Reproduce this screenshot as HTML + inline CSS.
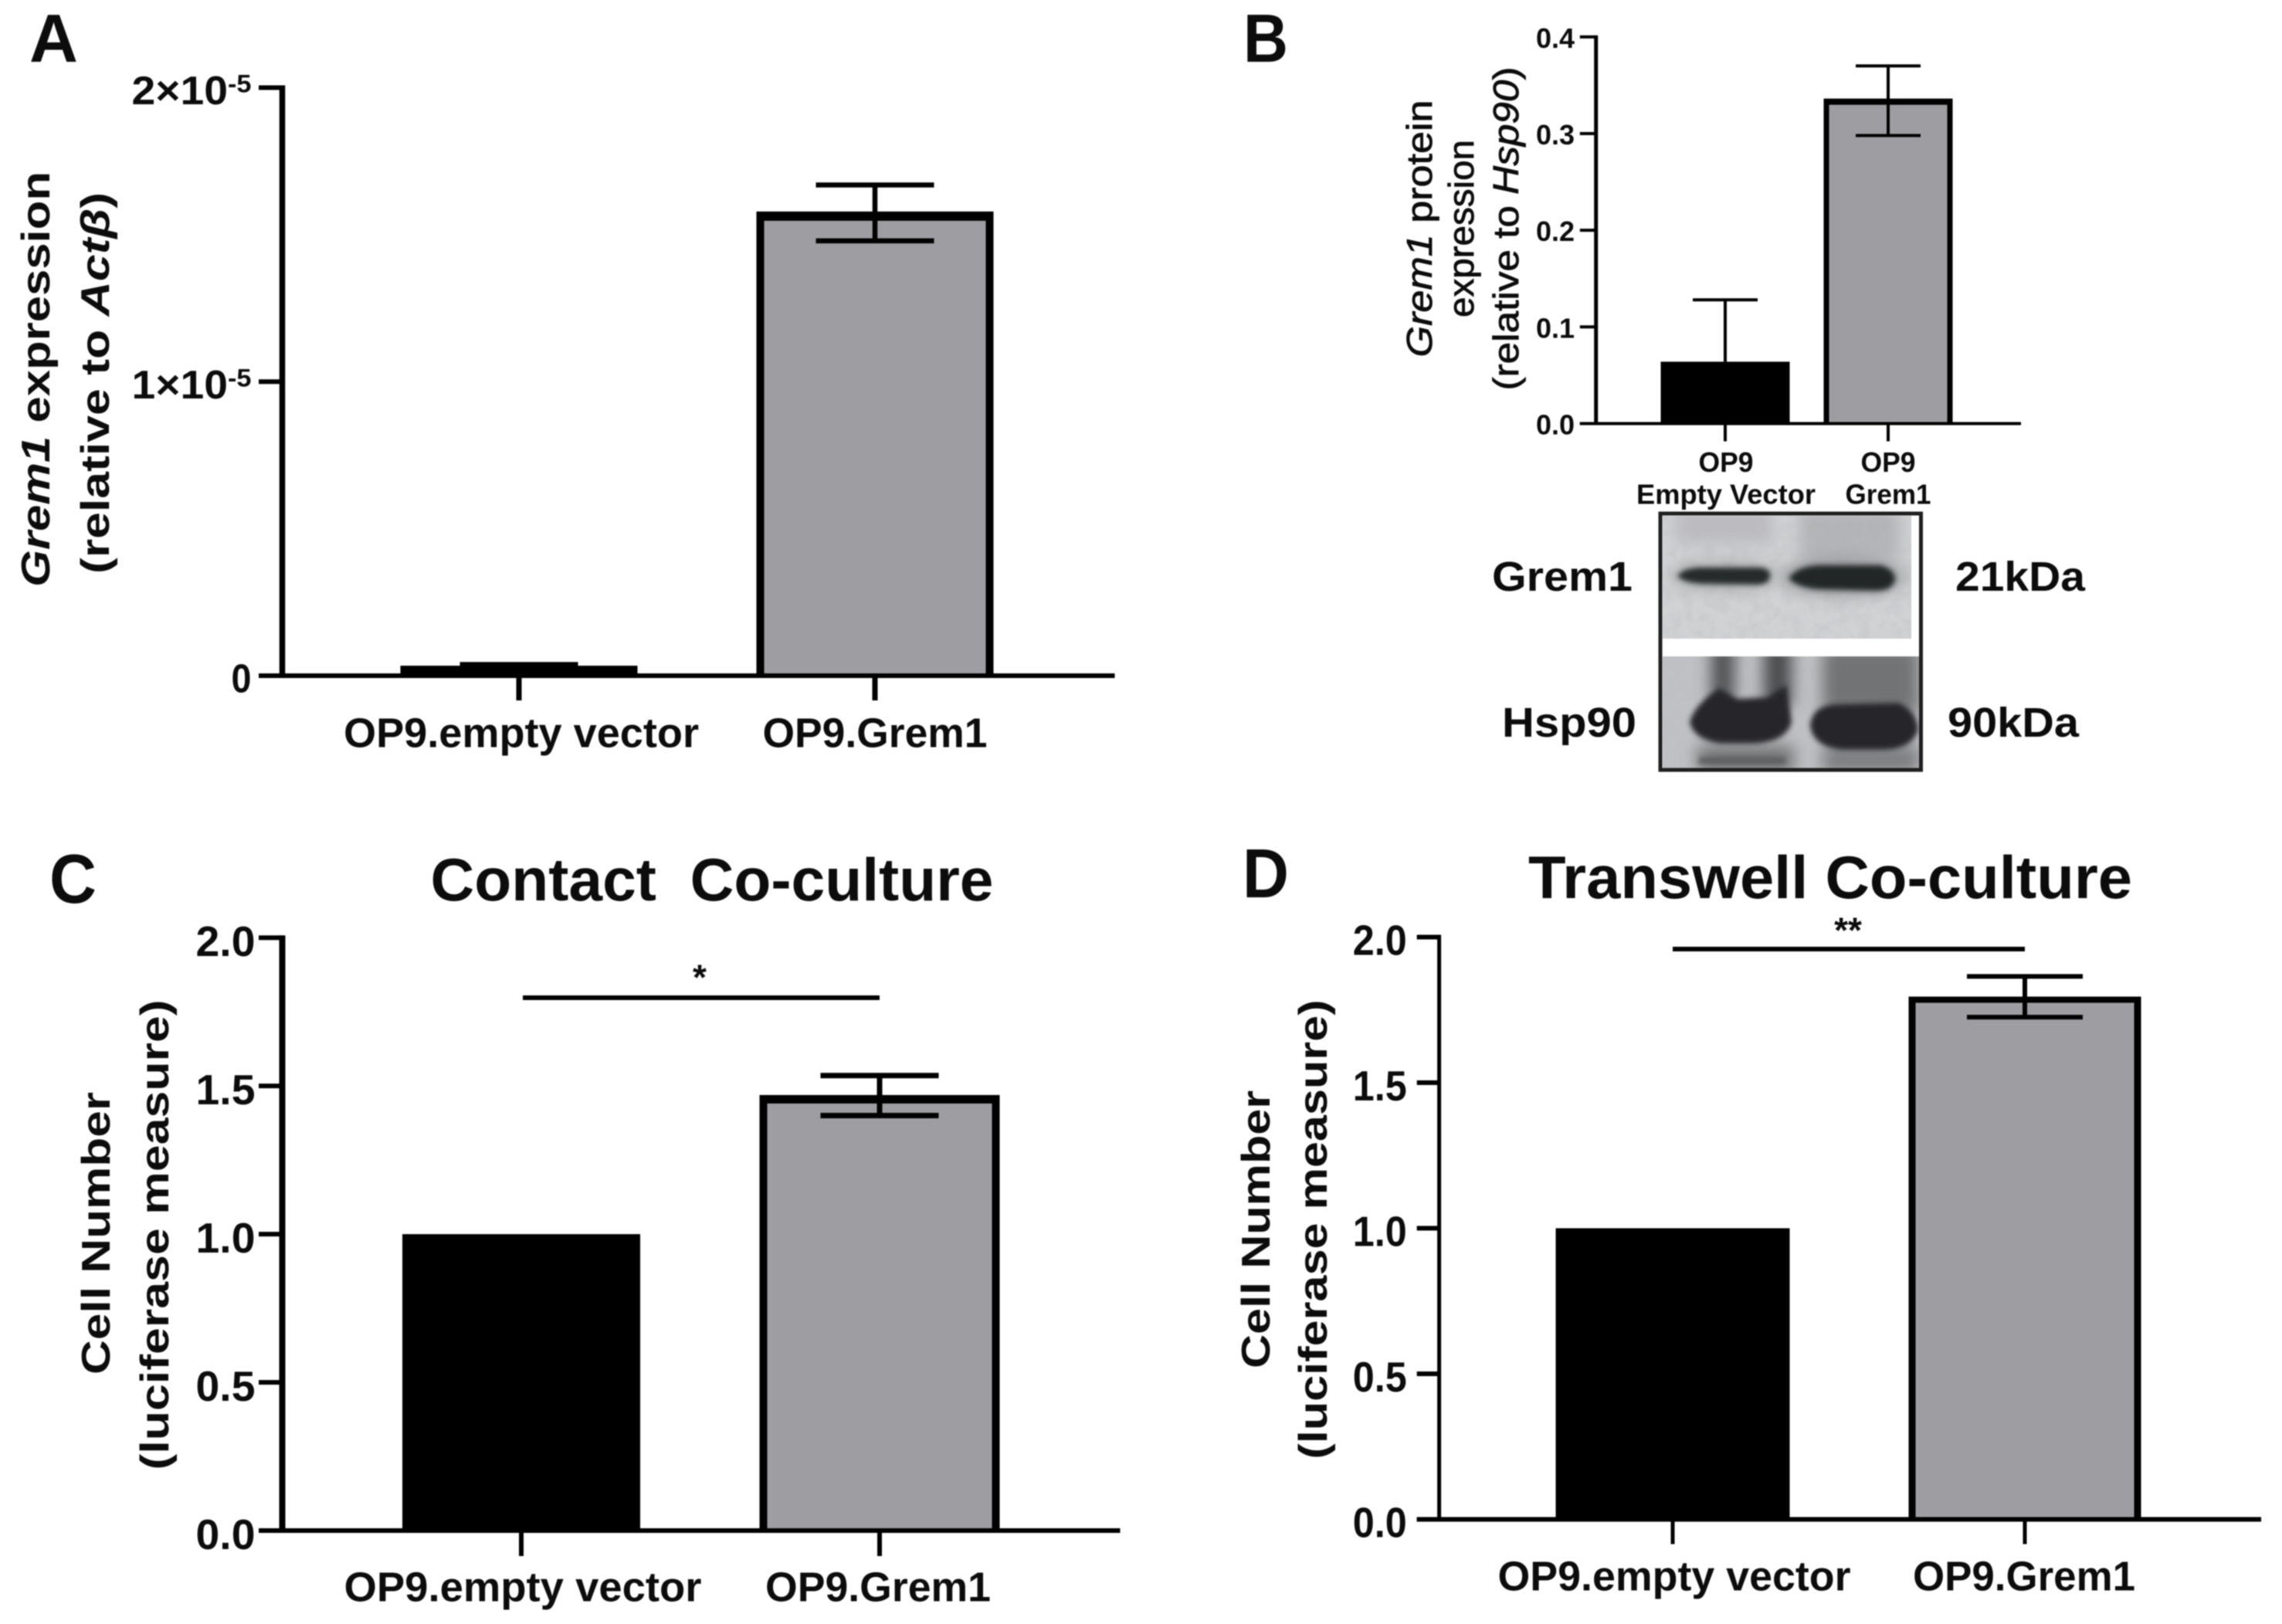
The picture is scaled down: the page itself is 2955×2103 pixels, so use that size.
<!DOCTYPE html>
<html>
<head>
<meta charset="utf-8">
<title>Grem1 expression and co-culture charts</title>
<style>
html,body{margin:0;padding:0;background:#fff;}
#figure{display:block;width:2955px;height:2103px;filter:blur(0.7px);}
text{font-family:"Liberation Sans",sans-serif;fill:#0c0c0c;}
.b{font-weight:700;}
.i{font-style:italic;}
.m{stroke:#0c0c0c;stroke-width:0.8px;}
</style>
</head>
<body>
<svg id="figure" xmlns="http://www.w3.org/2000/svg" width="2955" height="2103" viewBox="0 0 2955 2103">
<defs>
<filter id="blur-strong" filterUnits="userSpaceOnUse" x="-100" y="-100" width="600" height="600"><feGaussianBlur stdDeviation="10"/></filter>
<filter id="blur-mid" filterUnits="userSpaceOnUse" x="-100" y="-100" width="600" height="600"><feGaussianBlur stdDeviation="3.5"/></filter>
<filter id="grain" x="0" y="0" width="100%" height="100%"><feTurbulence type="fractalNoise" baseFrequency="0.07" numOctaves="3" seed="4"/><feColorMatrix values="0 0 0 0 0.5  0 0 0 0 0.5  0 0 0 0 0.52  0.7 0 0 0 -0.24"/></filter>
<clipPath id="strip-top"><rect x="3" y="3" width="322" height="159"/></clipPath>
<clipPath id="strip-bottom"><rect x="3" y="185" width="332" height="145"/></clipPath>
</defs>

<text class="b" x="38" y="80" font-size="88" textLength="63" lengthAdjust="spacingAndGlyphs">A</text>
<text class="b" x="1610" y="80" font-size="88" textLength="58" lengthAdjust="spacingAndGlyphs">B</text>
<text class="b" x="64" y="1169" font-size="90" textLength="61" lengthAdjust="spacingAndGlyphs">C</text>
<text class="b" x="1609" y="1162" font-size="90" textLength="60" lengthAdjust="spacingAndGlyphs">D</text>

<text class="b" x="922" y="1166" font-size="78" text-anchor="middle" textLength="729" lengthAdjust="spacingAndGlyphs" xml:space="preserve">Contact  Co-culture</text>
<text class="b" x="2370" y="1163" font-size="78" text-anchor="middle" textLength="782" lengthAdjust="spacingAndGlyphs">Transwell Co-culture</text>

<text class="b" transform="translate(64 491) rotate(-90)" font-size="52" text-anchor="middle" textLength="538" lengthAdjust="spacingAndGlyphs"><tspan class="i">Grem1</tspan> expression</text>
<text class="b" transform="translate(141 496) rotate(-90)" font-size="52" text-anchor="middle" textLength="494" lengthAdjust="spacingAndGlyphs">(relative to <tspan class="i">Actβ</tspan>)</text>

<text class="m" transform="translate(1854 296) rotate(-90)" font-size="46" text-anchor="middle" textLength="333" lengthAdjust="spacingAndGlyphs"><tspan class="i">Grem1</tspan> protein</text>
<text class="m" transform="translate(1908 296) rotate(-90)" font-size="46" text-anchor="middle" textLength="230" lengthAdjust="spacingAndGlyphs">expression</text>
<text class="m" transform="translate(1966 296) rotate(-90)" font-size="46" text-anchor="middle" textLength="419" lengthAdjust="spacingAndGlyphs">(relative to <tspan class="i">Hsp90</tspan>)</text>

<text class="b" transform="translate(142 1597) rotate(-90)" font-size="52" text-anchor="middle" textLength="366" lengthAdjust="spacingAndGlyphs">Cell Number</text>
<text class="b" transform="translate(218 1599) rotate(-90)" font-size="52" text-anchor="middle" textLength="609" lengthAdjust="spacingAndGlyphs">(luciferase measure)</text>
<text class="b" transform="translate(1644 1592) rotate(-90)" font-size="52" text-anchor="middle" textLength="360" lengthAdjust="spacingAndGlyphs">Cell Number</text>
<text class="b" transform="translate(1718 1592) rotate(-90)" font-size="52" text-anchor="middle" textLength="595" lengthAdjust="spacingAndGlyphs">(luciferase measure)</text>

<text class="b" x="1932" y="765" font-size="54" textLength="182" lengthAdjust="spacingAndGlyphs">Grem1</text>
<text class="b" x="2532" y="765" font-size="54" textLength="168" lengthAdjust="spacingAndGlyphs">21kDa</text>
<text class="b" x="1945" y="954" font-size="54" textLength="174" lengthAdjust="spacingAndGlyphs">Hsp90</text>
<text class="b" x="2522" y="954" font-size="54" textLength="170" lengthAdjust="spacingAndGlyphs">90kDa</text>

<g id="western-blot" transform="translate(2150 665)">
  <rect x="0" y="0" width="337.5" height="332" fill="#fff"/>
  <g clip-path="url(#strip-top)">
    <rect x="0" y="0" width="340" height="170" fill="#d0d2d4"/>
    <rect x="180" y="-10" width="130" height="70" fill="#b2b3b6" filter="url(#blur-strong)"/>
    <rect x="20" y="-10" width="125" height="50" fill="#bcbcc0" filter="url(#blur-strong)"/>
    <rect x="0" y="0" width="340" height="170" filter="url(#grain)"/>
    <ellipse cx="83" cy="81" rx="70" ry="18" fill="#8c8e90" filter="url(#blur-strong)" opacity="0.6"/>
    <ellipse cx="237" cy="82" rx="80" ry="24" fill="#7c7e80" filter="url(#blur-strong)" opacity="0.7"/>
    <path d="M22 81 Q30 69 60 70 L130 70 Q144 72 142 82 Q140 92 125 92 L60 91 Q32 91 22 81Z" fill="#26292a" filter="url(#blur-mid)"/>
    <path d="M166 84 Q178 68 205 67 L285 67 Q304 72 304 86 Q300 100 280 100 L205 98 Q178 96 166 84Z" fill="#232627" filter="url(#blur-mid)"/>
  </g>
  <g clip-path="url(#strip-bottom)">
    <rect x="0" y="180" width="340" height="160" fill="#c0c1c4"/>
    <rect x="0" y="180" width="340" height="160" filter="url(#grain)"/>
    <rect x="66" y="165" width="30" height="80" fill="#4e4f51" filter="url(#blur-strong)"/>
    <rect x="134" y="165" width="36" height="85" fill="#4a4b4d" filter="url(#blur-strong)"/>
    <rect x="210" y="170" width="125" height="90" fill="#727375" filter="url(#blur-strong)"/>
    <rect x="48" y="300" width="125" height="36" fill="#737476" filter="url(#blur-strong)"/>
    <rect x="210" y="300" width="125" height="36" fill="#7c7d7f" filter="url(#blur-strong)"/>
    <rect x="50" y="316" width="112" height="8" fill="#5a5b5d" filter="url(#blur-mid)"/>
    <path d="M38 270 Q44 248 76 226 L100 240 L138 238 L163 222 L170 270 Q163 296 120 298 L80 298 Q44 294 38 270Z" fill="#25282a" filter="url(#blur-mid)"/>
    <path d="M194 275 Q196 250 225 247 L308 245 Q332 255 334 280 Q326 305 290 306 L235 306 Q198 302 194 275Z" fill="#25282a" filter="url(#blur-mid)"/>
  </g>
  <rect x="0" y="0" width="337.5" height="332" fill="none" stroke="#1f1f1f" stroke-width="5"/>
</g>
<g id="charts"></g>

<script>
// Panel A data
const panelACategories = ["OP9.empty vector", "OP9.Grem1"];
const panelAValues = [0.034e-5, 1.563e-5];
const panelAErrHigh = [0.038e-5, 1.669e-5];
const panelAErrLow = [0.034e-5, 1.479e-5];
const panelATicks = [0, 1e-5, 2e-5];
const panelATickLabels = ["0", "1×10^-5", "2×10^-5"];

// Panel B data
const panelBCategories = [["OP9", "Empty Vector"], ["OP9", "Grem1"]];
const panelBValues = [0.064, 0.333];
const panelBErrHigh = [0.128, 0.37];
const panelBErrLow = [0.064, 0.298];
const panelBTicks = [0, 0.1, 0.2, 0.3, 0.4];
const panelBTickLabels = ["0.0", "0.1", "0.2", "0.3", "0.4"];

// Panel C data
const panelCCategories = ["OP9.empty vector", "OP9.Grem1"];
const panelCValues = [1.0, 1.455];
const panelCErrHigh = [1.0, 1.535];
const panelCErrLow = [1.0, 1.40];
const panelCTicks = [0, 0.5, 1.0, 1.5, 2.0];
const panelCTickLabels = ["0.0", "0.5", "1.0", "1.5", "2.0"];

// Panel D data
const panelDCategories = ["OP9.empty vector", "OP9.Grem1"];
const panelDValues = [1.0, 1.785];
const panelDErrHigh = [1.0, 1.865];
const panelDErrLow = [1.0, 1.725];
const panelDTicks = [0, 0.5, 1.0, 1.5, 2.0];
const panelDTickLabels = ["0.0", "0.5", "1.0", "1.5", "2.0"];

const NS = "http://www.w3.org/2000/svg";
const root = document.getElementById("charts");

function rectEl(parent, name, x, y, w, h, fill) {
  const el = document.createElementNS(NS, "rect");
  el.setAttribute("x", x);
  el.setAttribute("y", y);
  el.setAttribute("width", w);
  el.setAttribute("height", h);
  el.setAttribute("fill", fill);
  
  
  parent.appendChild(el);
  return el;
}

function textEl(parent, name, content, x, cy, size, anchor, len, bold) {
  const el = document.createElementNS(NS, "text");
  el.setAttribute("x", x);
  el.setAttribute("y", cy + size * 0.36);
  el.setAttribute("font-size", size);
  el.setAttribute("text-anchor", anchor);
  if (bold) el.setAttribute("class", "b");
  if (len) {
    el.setAttribute("textLength", len);
    el.setAttribute("lengthAdjust", "spacingAndGlyphs");
  }
  const parts = content.split("^");
  el.appendChild(document.createTextNode(parts[0]));
  if (parts[1]) {
    const sup = document.createElementNS(NS, "tspan");
    sup.setAttribute("dy", -size * 0.3);
    sup.setAttribute("font-size", size * 0.62);
    sup.textContent = parts[1];
    el.appendChild(sup);
  }
  
  
  parent.appendChild(el);
  return el;
}

function drawPanel(key, cfg, categories, values, errHigh, errLow, ticks, tickLabels) {
  const g = document.createElementNS(NS, "g");
  
  
  root.appendChild(g);

  const maxTick = ticks[ticks.length - 1];
  const yScale = v => cfg.baseY - (v / maxTick) * (cfg.baseY - cfg.topY);
  const xScale = i => cfg.firstX + i * cfg.stepX;

  categories.forEach(function (cat, i) {
    const cx = xScale(i);
    const w = cfg.barWidths[i];
    const barTop = yScale(values[i]);
    const left = cx - w / 2;
    rectEl(g, key + '-bar-' + (i + 1), left, barTop - (i ? cfg.topStroke / 2 : 0), w, cfg.baseY - barTop + (i ? cfg.topStroke / 2 : 0), "#000");
    if (i === 1) {
      rectEl(g, key + '-bar-fill', left + cfg.sideStroke, barTop + cfg.topStroke / 2, w - 2 * cfg.sideStroke, cfg.baseY - barTop - cfg.topStroke / 2, "#9e9ea2");
    }
    if (errHigh[i] !== values[i] || errLow[i] !== values[i]) {
      const hi = yScale(errHigh[i]);
      const lo = yScale(errLow[i]);
      rectEl(g, key + '-error-stem-' + (i + 1), cx - cfg.errStroke / 2, hi, cfg.errStroke, lo - hi, "#000");
      rectEl(g, key + '-error-cap-high-' + (i + 1), cx - cfg.capWidth / 2, hi - cfg.errStroke / 2, cfg.capWidth, cfg.errStroke, "#000");
      if (errLow[i] !== values[i]) {
        rectEl(g, key + '-error-cap-low-' + (i + 1), cx - cfg.capWidth / 2, lo - cfg.errStroke / 2, cfg.capWidth, cfg.errStroke, "#000");
      }
    }
    rectEl(g, key + '-x-tick-' + (i + 1), cx - cfg.tickStroke / 2, cfg.baseY, cfg.tickStroke, cfg.xTickLen, "#000");
    const lines = Array.isArray(cat) ? cat : [cat];
    lines.forEach(function (line, n) {
      const wd = cfg.xLabelLens[i][n];
      textEl(g, key + '-x-label-' + (i + 1) + '-' + (n + 1), line, cfg.xLabelX[i], cfg.xLabelY + n * cfg.xLabelGap, cfg.xLabelSize, "middle", wd, true);
    });
  });

  rectEl(g, key + '-y-axis', cfg.axisX - cfg.axisStroke / 2, cfg.topY - cfg.axisH / 2, cfg.axisStroke, cfg.baseY - cfg.topY + cfg.axisH, "#000");
  rectEl(g, key + '-x-axis', cfg.tickLeft, cfg.baseY - cfg.axisH / 2, cfg.axisRight - cfg.tickLeft, cfg.axisH, "#000");

  ticks.forEach(function (t, i) {
    const ty = yScale(t);
    rectEl(g, key + '-y-tick-' + i, cfg.tickLeft, ty - cfg.axisH / 2, cfg.axisX - cfg.tickLeft, cfg.axisH, "#000");
    textEl(g, key + '-y-tick-label-' + i, tickLabels[i], cfg.tickLabelRight, ty + cfg.tickLabelDy, cfg.tickLabelSize, "end", cfg.tickLabelLen(tickLabels[i]), true);
  });
  return g;
}

const panelA = drawPanel("panel-a", {
  baseY: 875, topY: 113.5, firstX: 672, stepX: 461, barWidths: [307, 307], topStroke: 12, sideStroke: 10,
  errStroke: 6.5, capWidth: 153, tickStroke: 7, xTickLen: 32, axisX: 365.5, axisStroke: 7.5, axisH: 6, tickLeft: 335, axisRight: 1443.5,
  xLabelX: [675, 1133], xLabelY: 948, xLabelGap: 0, xLabelSize: 54, xLabelLens: [[460], [291]],
  tickLabelRight: 325.5, tickLabelDy: 3, tickLabelSize: 52, tickLabelLen: s => s.length > 1 ? 155 : 26
}, panelACategories, panelAValues, panelAErrHigh, panelAErrLow, panelATicks, panelATickLabels);

const panelB = drawPanel("panel-b", {
  baseY: 548.5, topY: 47.8, firstX: 2234, stepX: 211, barWidths: [167, 167], topStroke: 8, sideStroke: 7,
  errStroke: 4, capWidth: 84, tickStroke: 4, xTickLen: 23, axisX: 2066.7, axisStroke: 5, axisH: 4, tickLeft: 2045.8, axisRight: 2617,
  xLabelX: [2235, 2445], xLabelY: 598, xLabelGap: 41.5, xLabelSize: 36, xLabelLens: [[71, 232], [71, 111]],
  tickLabelRight: 2039, tickLabelDy: 1, tickLabelSize: 36, tickLabelLen: s => 50
}, panelBCategories, panelBValues, panelBErrHigh, panelBErrLow, panelBTicks, panelBTickLabels);

const panelC = drawPanel("panel-c", {
  baseY: 1982, topY: 1214.3, firstX: 675, stepX: 464, barWidths: [308, 311], topStroke: 11, sideStroke: 10,
  errStroke: 7, capWidth: 153, tickStroke: 6, xTickLen: 33, axisX: 365.5, axisStroke: 8, axisH: 6, tickLeft: 335, axisRight: 1450.5,
  xLabelX: [677, 1137], xLabelY: 2054, xLabelGap: 0, xLabelSize: 54, xLabelLens: [[463], [292]],
  tickLabelRight: 330.5, tickLabelDy: 4, tickLabelSize: 55, tickLabelLen: s => 77
}, panelCCategories, panelCValues, panelCErrHigh, panelCErrLow, panelCTicks, panelCTickLabels);

const panelD = drawPanel("panel-d", {
  baseY: 1967.5, topY: 1213.5, firstX: 2166, stepX: 456, barWidths: [303, 301], topStroke: 8, sideStroke: 9,
  errStroke: 6, capWidth: 150, tickStroke: 5, xTickLen: 32, axisX: 1863.6, axisStroke: 5, axisH: 6, tickLeft: 1834.7, axisRight: 2928,
  xLabelX: [2168, 2621], xLabelY: 2040, xLabelGap: 0, xLabelSize: 54, xLabelLens: [[457], [288]],
  tickLabelRight: 1821.8, tickLabelDy: 3, tickLabelSize: 55, tickLabelLen: s => 70
}, panelDCategories, panelDValues, panelDErrHigh, panelDErrLow, panelDTicks, panelDTickLabels);

rectEl(panelC, 'panel-c-significance-line', 677, 1289, 462, 6, "#000");
textEl(panelC, 'panel-c-significance-star', "*", 906, 1265, 46, "middle", 0, true);
rectEl(panelD, 'panel-d-significance-line', 2166, 1226, 456, 6, "#000");
textEl(panelD, 'panel-d-significance-stars', "**", 2393, 1204, 46, "middle", 0, true);
</script>
</svg>
</body>
</html>
